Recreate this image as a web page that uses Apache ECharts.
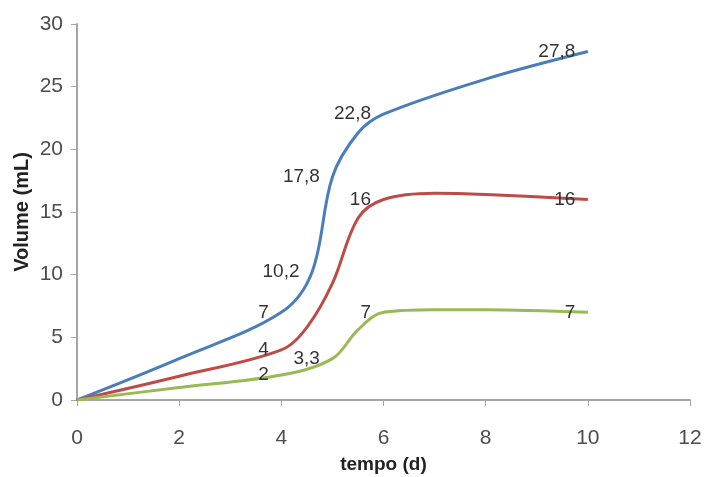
<!DOCTYPE html>
<html>
<head>
<meta charset="utf-8">
<script src="https://cdn.jsdelivr.net/npm/echarts@6/dist/echarts.min.js"></script>
<style>html,body{margin:0;padding:0;background:#fff}#c{width:708px;height:477px}</style>
</head>
<body>
<div id="c"></div>
<script>
// Data (days, mL)
const blueDays   = [0, 2, 4, 4.6, 5, 5.5, 6, 8, 10];
const blueVals   = [0, 3.3, 7, 10.2, 17.8, 21.3, 22.8, 25.6, 27.8];
const blueLabels = [false, false, true, true, true, false, true, false, true];

const redDays    = [0, 2, 4, 4.5, 5, 5.5, 6, 7, 8, 10];
const redVals    = [0, 1.9, 4, 5.8, 9.3, 14.5, 16, 16.5, 16.4, 16];
const redLabels  = [false, false, true, false, false, false, true, false, false, true];

const greenDays   = [0, 2, 4, 5, 5.5, 6, 7, 8, 10];
const greenVals   = [0, 1, 2, 3.3, 5.6, 7, 7.2, 7.2, 7];
const greenLabels = [false, false, true, true, false, true, false, false, true];

const xTicks = [0, 2, 4, 6, 8, 10, 12];
const yTicks = [0, 5, 10, 15, 20, 25, 30];

const NARROW = '"Liberation Sans Narrow","Arial Narrow","Liberation Sans",Arial,sans-serif';

function lineSeries(name, color, days, vals, labels) {
  return {
    name, type: 'line', smooth: 0.35,
    symbol: 'circle', symbolSize: 1, showSymbol: true, showAllSymbol: true,
    lineStyle: { color, width: 3 },
    itemStyle: { color },
    data: days.map((d, i) => [d, vals[i]]),
    label: {
      show: true,
      position: 'left', distance: 12,
      fontFamily: NARROW, fontSize: 19, color: '#333',
      formatter: p => labels[p.dataIndex] ? String(p.value[1]).replace('.', ',') : ''
    },
    labelLayout: { hideOverlap: false },
    z: 2
  };
}

const chart = echarts.init(document.getElementById('c'));
chart.setOption({
  animation: false,
  grid: { left: 77, right: 18, top: 24, bottom: 77, containLabel: false, outerBoundsMode: 'none' },
  xAxis: {
    type: 'value', min: xTicks[0], max: xTicks[xTicks.length - 1], interval: 2,
    name: 'tempo (d)', nameLocation: 'middle', nameGap: 55, nameMoveOverlap: false,
    nameTextStyle: { fontFamily: '"Liberation Sans",Arial,sans-serif', fontWeight: 'bold', fontSize: 19, color: '#222' },
    axisLine: { lineStyle: { color: '#a6a6a6', width: 2 } },
    axisTick: { show: true, length: 6, lineStyle: { color: '#a6a6a6' } },
    axisLabel: { fontFamily: NARROW, fontSize: 21, color: '#4d4d4d', margin: 28 },
    splitLine: { show: false }
  },
  yAxis: {
    type: 'value', min: yTicks[0], max: yTicks[yTicks.length - 1], interval: 5,
    name: 'Volume (mL)', nameLocation: 'middle', nameGap: 45, nameMoveOverlap: false,
    nameTextStyle: { fontFamily: '"Liberation Sans",Arial,sans-serif', fontWeight: 'bold', fontSize: 20, color: '#222' },
    axisLine: { show: true, lineStyle: { color: '#a6a6a6', width: 2 } },
    axisTick: { show: true, length: 6, lineStyle: { color: '#a6a6a6' } },
    axisLabel: { fontFamily: NARROW, fontSize: 21, color: '#4d4d4d', margin: 14 },
    splitLine: { show: false }
  },
  series: [
    lineSeries('Série 1', '#4a7ebb', blueDays, blueVals, blueLabels),
    lineSeries('Série 2', '#be4b48', redDays, redVals, redLabels),
    lineSeries('Série 3', '#98b954', greenDays, greenVals, greenLabels)
  ]
});
</script>
</body>
</html>
